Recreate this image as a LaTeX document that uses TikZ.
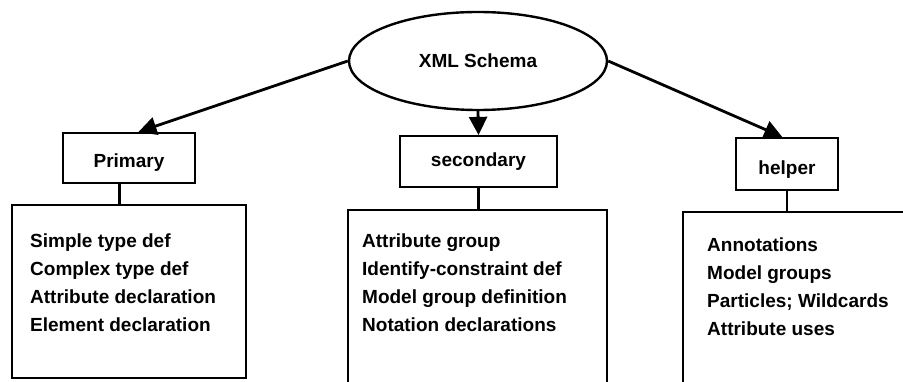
\documentclass[tikz,border=0pt]{standalone}
\usepackage{fontspec}
\setmainfont{Liberation Sans}
\usetikzlibrary{arrows.meta,shapes.geometric}

\begin{document}
\begin{tikzpicture}[x=1pt,y=-1pt,
	every node/.style={font=\fontsize{19}{28}\selectfont\bfseries},
	head/.style={shape=rectangle,draw=black,line width=2.2pt,inner sep=0pt},
	listbox/.style={shape=rectangle,draw=black,line width=2.2pt,inner sep=0pt},
	items/.style={anchor=north west,align=left,inner sep=0pt},
	arr/.style={-{Triangle[length=18pt,width=18pt]},line width=2.8pt},
	link/.style={-,line width=2.6pt}]
	
	\useasboundingbox (0,0) rectangle (903,382);
	\clip (0,0) rectangle (903,382);
	
	\node[shape=ellipse,draw=black,line width=2.4pt,minimum width=258pt,minimum height=98pt,inner sep=0pt] (schema) at (478,61) {XML Schema};
	
	\node[head,minimum width=132pt,minimum height=50pt,text height=24pt,text depth=4pt] (primary) at (129,158) {Primary};
	\node[head,minimum width=157pt,minimum height=51pt] (secondary) at (478.5,161.5) {secondary};
	\node[head,minimum width=102pt,minimum height=52pt,text height=26pt,text depth=4pt] (helper) at (787,164) {helper};
	
	\node[listbox,minimum width=234pt,minimum height=173pt] (primbox) at (129,291.5) {};
	\node[listbox,minimum width=259pt,minimum height=200pt] (secbox) at (477.5,310) {};
	\node[listbox,minimum width=247pt,minimum height=200pt] (helpbox) at (806.5,312) {};
	
	\node[items] (primlist) at (30,234) {Simple type def\\Complex type def\\Attribute declaration\\Element declaration};
	\node[items] (seclist) at (362,234) {Attribute group\\Identify-constraint def\\Model group definition\\Notation declarations};
	\node[items] (helplist) at (707,238) {Annotations\\Model groups\\Particles; Wildcards\\Attribute uses};
	
	\path[arr] (schema.west) edge (primary.70);
	\path[arr] (schema.south) edge (secondary.north);
	\path[arr] (schema.east) edge (helper.100);
	
	\path[link] (primary.250) edge (primary.250 |- primbox.north);
	\path[link] (secondary.south) edge (secondary.south |- secbox.north);
	\path[link] (helper.south) edge (helper.south |- helpbox.north);
	
\end{tikzpicture}
\end{document}
